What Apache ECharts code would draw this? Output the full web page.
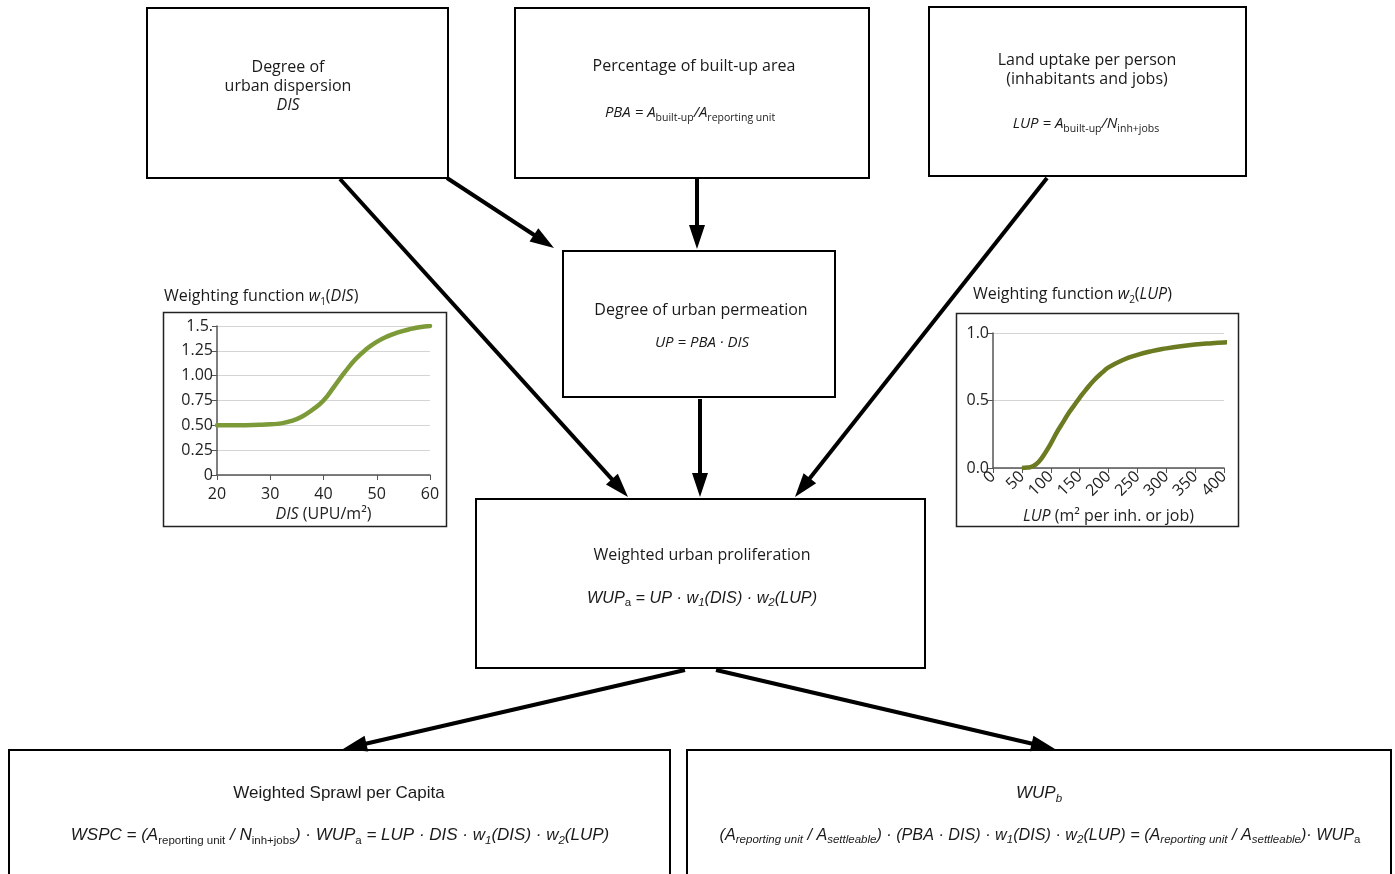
<!DOCTYPE html>
<html><head><meta charset="utf-8">
<script src="https://cdn.jsdelivr.net/npm/echarts@6/dist/echarts.min.js"></script>
<style>html,body{margin:0;padding:0;background:#fff}#c{width:1395px;height:874px}</style>
</head><body><div id="c"></div>
<script>
// ---- data ----
const disX = [20,24,28,30,32,34,36,38,40,42,44,46,48,50,52,54,56,58,60];
const w1Y  = [0.50,0.50,0.505,0.51,0.52,0.545,0.59,0.66,0.75,0.89,1.035,1.165,1.265,1.34,1.395,1.435,1.465,1.488,1.50];
const lupX = [50,60,70,80,90,100,110,120,130,140,150,160,175,190,200,225,250,275,300,325,350,375,400,428];
const w2Y  = [0,0.003,0.015,0.05,0.11,0.18,0.26,0.33,0.40,0.46,0.52,0.575,0.65,0.71,0.745,0.80,0.838,0.866,0.886,0.902,0.914,0.923,0.93,0.935];
const w1TickLabels = ['0','0.25','0.50','0.75','1.00','1.25','1.5.'];
const w2TickLabels = ['0.0','0.5','1.0'];

const OS = 'Open Sans', AR = 'Liberation Sans';
const TXT = '#1a1a1a';

function mkRich(fam, size, subSize, lh){
  return {
    n:{fontFamily:fam,fontSize:size,lineHeight:lh,verticalAlign:'middle',fill:TXT},
    i:{fontFamily:fam,fontSize:size,fontStyle:'italic',lineHeight:lh,verticalAlign:'middle',fill:TXT},
    s:{fontFamily:fam,fontSize:subSize,lineHeight:subSize+2,verticalAlign:'bottom',fill:TXT},
    si:{fontFamily:fam,fontSize:subSize,fontStyle:'italic',lineHeight:subSize+2,verticalAlign:'bottom',fill:TXT}
  };
}
function txt(x,y,text,rich,align){
  return {type:'text',x:x,y:y,z:10,style:{text:text,rich:rich,align:align||'center',verticalAlign:'middle',fill:TXT}};
}
function box(x,y,w,h,lw,col){
  return {type:'rect',shape:{x:x,y:y,width:w,height:h},style:{fill:'none',stroke:col||'#000',lineWidth:lw||2},z:5};
}
function arrow(x1,y1,x2,y2){
  const dx=x2-x1, dy=y2-y1, L=Math.hypot(dx,dy), ux=dx/L, uy=dy/L;
  const hl=24, hw=8;
  const bx=x2-ux*hl, by=y2-uy*hl;
  return [
    {type:'line',z:6,shape:{x1:x1,y1:y1,x2:bx+ux*3,y2:by+uy*3},style:{stroke:'#000',lineWidth:4}},
    {type:'polygon',z:6,shape:{points:[[x2,y2],[bx-uy*hw,by+ux*hw],[bx+uy*hw,by-ux*hw]]},style:{fill:'#000'}}
  ];
}

const rOS = mkRich(OS,16,10,22);
const rOSf = mkRich(OS,15,10.5,22);
const rAR = mkRich(AR,17,11.5,24);
const rARw = mkRich(AR,16.2,11.5,22);

let graphics = [
  box(147,8,301,170), box(515,8,354,170), box(929,7,317,169),
  box(563,251,272,146), box(476,499,449,169),
  box(9,750,661,140), box(687,750,704,140),
  box(163.5,312.5,283,214,1.5,'#222'), box(956.5,313.5,282,213,1.5,'#222')
];
graphics = graphics.concat(
  arrow(340,179,628,497), arrow(447,178,554,248), arrow(697,179,697,249),
  arrow(1047,178,795,497), arrow(700,399,700,497),
  arrow(685,670,343,749), arrow(716,670,1055,749)
);
graphics.push(
  txt(288,67,'{n|Degree of}',rOS), txt(288,86,'{n|urban dispersion}',rOS), txt(288,105,'{i|DIS}',rOS),
  txt(694,66,'{n|Percentage of built-up area}',rOS),
  txt(690,113,'{i|PBA = A}{s|built-up}{i|/A}{s|reporting unit}',rOSf),
  txt(1087,60,'{n|Land uptake per person}',rOS), txt(1087,79,'{n|(inhabitants and jobs)}',rOS),
  txt(1086,124,'{i|LUP = A}{s|built-up}{i|/N}{s|inh+jobs}',rOSf),
  txt(701,310,'{n|Degree of urban permeation}',rOS),
  txt(702,343,'{i|UP = PBA · DIS}',rOSf),
  txt(702,555,'{n|Weighted urban proliferation}',rOS),
  txt(702,598,'{i|WUP}{s|a}{i| = UP · w}{si|1}{i|(DIS) · w}{si|2}{i|(LUP)}',rARw),
  txt(339,793,'{n|Weighted Sprawl per Capita}',rAR),
  txt(340,835,'{i|WSPC = (A}{s|reporting unit}{i| / N}{s|inh+jobs}{i|) · WUP}{s|a}{i| = LUP · DIS · w}{si|1}{i|(DIS) · w}{si|2}{i|(LUP)}',rAR),
  txt(1039,793,'{i|WUP}{si|b}',rAR),
  txt(1040,835,'{i|(A}{si|reporting unit}{i| / A}{si|settleable}{i|) · (PBA · DIS) · w}{si|1}{i|(DIS) · w}{si|2}{i|(LUP) = (A}{si|reporting unit}{i| / A}{si|settleable}{i|)· WUP}{s|a}',rARw),
  txt(164,296,'{n|Weighting function }{i|w}{s|1}{n|(}{i|DIS}{n|)}',rOS,'left'),
  txt(973,294,'{n|Weighting function }{i|w}{s|2}{n|(}{i|LUP}{n|)}',rOS,'left')
);

const axLine = {show:true,lineStyle:{color:'#555',width:1.5}};
const axTick = {show:true,length:5,lineStyle:{color:'#555'}};
const lbl = {color:'#222',fontFamily:OS,fontSize:16};
const nameRich = {i:{fontStyle:'italic',fontFamily:OS,fontSize:16,color:'#222'}};

const option = {
  animation:false,
  backgroundColor:'#fff',
  grid:[{left:217,top:326,width:213,height:149},{left:993,top:333,width:231,height:135}],
  xAxis:[
    {type:'value',gridIndex:0,min:20,max:60,interval:10,axisLine:axLine,axisTick:axTick,
     axisLabel:Object.assign({margin:11},lbl),splitLine:{show:false},
     name:'{i|DIS} (UPU/m²)',nameLocation:'middle',nameGap:31,
     nameTextStyle:{color:'#222',fontFamily:OS,fontSize:16,rich:nameRich}},
    {type:'value',gridIndex:1,min:0,max:400,interval:50,axisLine:axLine,axisTick:axTick,
     axisLabel:Object.assign({margin:6,rotate:45},lbl),splitLine:{show:false},
     name:'{i|LUP} (m² per inh. or job)',nameLocation:'middle',nameGap:40,
     nameTextStyle:{color:'#222',fontFamily:OS,fontSize:16,rich:nameRich}}
  ],
  yAxis:[
    {type:'value',gridIndex:0,min:0,max:1.5,interval:0.25,axisLine:axLine,axisTick:axTick,
     axisLabel:Object.assign({margin:4,formatter:function(v){return w1TickLabels[Math.round(v/0.25)];}},lbl),
     splitLine:{show:true,lineStyle:{color:'#d4d4d4',width:1}}},
    {type:'value',gridIndex:1,min:0,max:1,interval:0.5,axisLine:axLine,axisTick:axTick,
     axisLabel:Object.assign({margin:4,formatter:function(v){return w2TickLabels[Math.round(v/0.5)];}},lbl),
     splitLine:{show:true,lineStyle:{color:'#d4d4d4',width:1}}}
  ],
  series:[
    {type:'line',xAxisIndex:0,yAxisIndex:0,data:disX.map(function(x,i){return [x,w1Y[i]];}),
     smooth:0.5,showSymbol:false,symbol:'none',lineStyle:{color:'#7c9a38',width:4.5,cap:'round'},z:3},
    {type:'line',xAxisIndex:1,yAxisIndex:1,data:lupX.map(function(x,i){return [x,w2Y[i]];}),
     smooth:0.5,showSymbol:false,symbol:'none',clip:false,lineStyle:{color:'#6a7b22',width:4.5},z:3}
  ],
  graphic:{elements:graphics}
};
const chart = echarts.init(document.getElementById('c'),null,{renderer:'canvas'});
chart.setOption(option);
</script>
</body></html>
